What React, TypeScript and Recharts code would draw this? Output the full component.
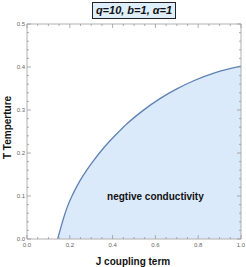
import React from 'react';
import { ComposedChart, Area, XAxis, YAxis, ReferenceDot } from 'recharts';

const couplingJ = [0.143, 0.155, 0.17, 0.187, 0.215, 0.249, 0.28, 0.312, 0.35, 0.389, 0.43, 0.467, 0.54, 0.623, 0.7, 0.779, 0.88, 1.0];
const temperatureT = [0, 0.021, 0.047, 0.073, 0.105, 0.137, 0.161, 0.183, 0.207, 0.229, 0.25, 0.268, 0.298, 0.327, 0.349, 0.368, 0.387, 0.402];

const xTicks = [0, 0.05, 0.1, 0.15, 0.2, 0.25, 0.3, 0.35, 0.4, 0.45, 0.5, 0.55, 0.6, 0.65, 0.7, 0.75, 0.8, 0.85, 0.9, 0.95, 1.0];
const xMajor = [0, 0.2, 0.4, 0.6, 0.8, 1.0];
const yTicks = [0, 0.02, 0.04, 0.06, 0.08, 0.1, 0.12, 0.14, 0.16, 0.18, 0.2, 0.22, 0.24, 0.26, 0.28, 0.3, 0.32, 0.34, 0.36, 0.38, 0.4, 0.42, 0.44, 0.46, 0.48, 0.5];
const yMajor = [0, 0.1, 0.2, 0.3, 0.4, 0.5];

const titleText = 'q=10, b=1, \u03b1=1';
const xTitle = 'J coupling term';
const yTitle = 'T Temperture';
const regionLabel = 'negtive conductivity';
const regionAt = { J: 0.6, T: 0.098 };

const data = couplingJ.map((j, i) => ({ J: j, T: temperatureT[i] }));

const TICK = '#999999';
const LABEL = '#666666';
const FONT = '"Liberation Sans", Arial, sans-serif';

const isMajor = (arr: number[], v: number) => arr.some((m) => Math.abs(m - v) < 1e-9);

const BottomTick = (p: any) => {
  const { x, y, payload } = p;
  const major = isMajor(xMajor, payload.value);
  return (
    <g>
      <line x1={x} x2={x} y1={y} y2={y - (major ? 4 : 2)} stroke={TICK} strokeWidth={0.8} />
      {major && (
        <text x={x} y={y + 8} textAnchor="middle" fontSize={6} fill={LABEL} fontFamily={FONT}>
          {payload.value.toFixed(1)}
        </text>
      )}
    </g>
  );
};

const TopTick = (p: any) => {
  const { x, y, payload } = p;
  const major = isMajor(xMajor, payload.value);
  return <line x1={x} x2={x} y1={y} y2={y + (major ? 4 : 2)} stroke={TICK} strokeWidth={0.8} />;
};

const LeftTick = (p: any) => {
  const { x, y, payload } = p;
  const major = isMajor(yMajor, payload.value);
  return (
    <g>
      <line x1={x} x2={x + (major ? 4 : 2)} y1={y} y2={y} stroke={TICK} strokeWidth={0.8} />
      {major && (
        <text x={x - 2} y={y + 2} textAnchor="end" fontSize={6} fill={LABEL} fontFamily={FONT}>
          {payload.value.toFixed(1)}
        </text>
      )}
    </g>
  );
};

const RightTick = (p: any) => {
  const { x, y, payload } = p;
  const major = isMajor(yMajor, payload.value);
  return <line x1={x} x2={x - (major ? 4 : 2)} y1={y} y2={y} stroke={TICK} strokeWidth={0.8} />;
};

export default function App() {
  return (
    <div style={{ position: 'absolute', left: 0, top: 0, width: 246, height: 267, background: '#fff' }}>
      <ComposedChart
        width={246}
        height={267}
        data={data}
        margin={{ top: 0, left: 0, right: 0, bottom: 0 }}
      >
        <XAxis
          xAxisId="b"
          dataKey="J"
          type="number"
          domain={[0, 1]}
          ticks={xTicks}
          interval={0}
          height={28}
          tickSize={0}
          tickMargin={0}
          tickLine={false}
          tick={<BottomTick />}
          stroke="#b0b0b0"
          allowDataOverflow
          label={{
            content: (lp: any) => {
              const vb = lp.viewBox;
              return (
                <text x={vb.x + vb.width / 2 - 1} y={vb.y + 26} textAnchor="middle" fontSize={10} fontWeight="bold" fontFamily={FONT} fill="#111">
                  {xTitle}
                </text>
              );
            },
          }}
        />
        <XAxis
          xAxisId="t"
          orientation="top"
          dataKey="J"
          type="number"
          domain={[0, 1]}
          ticks={xTicks}
          interval={0}
          height={24}
          tickSize={0}
          tickMargin={0}
          tickLine={false}
          tick={<TopTick />}
          stroke="#b0b0b0"
          allowDataOverflow
        />
        <YAxis
          yAxisId="l"
          type="number"
          domain={[0, 0.5]}
          ticks={yTicks}
          interval={0}
          width={27}
          tickSize={0}
          tickMargin={0}
          tickLine={false}
          tick={<LeftTick />}
          stroke="#b0b0b0"
          allowDataOverflow
          label={{
            content: (lp: any) => {
              const vb = lp.viewBox;
              const cx = 11;
              const cy = vb.y + vb.height / 2 - 4;
              return (
                <text x={cx} y={cy} transform={`rotate(-90 ${cx} ${cy})`} textAnchor="middle" fontSize={10} fontWeight="bold" fontFamily={FONT} fill="#111">
                  {yTitle}
                </text>
              );
            },
          }}
        />
        <YAxis
          yAxisId="r"
          orientation="right"
          type="number"
          domain={[0, 0.5]}
          ticks={yTicks}
          interval={0}
          width={5}
          tickSize={0}
          tickMargin={0}
          tickLine={false}
          tick={<RightTick />}
          stroke="#b0b0b0"
          allowDataOverflow
        />
        <Area
          xAxisId="b"
          yAxisId="l"
          dataKey="T"
          type="monotone"
          stroke="#5e81b5"
          strokeWidth={1.3}
          fill="#dbeafb"
          fillOpacity={1}
          baseValue={0}
          isAnimationActive={false}
          dot={false}
          activeDot={false}
        />
        <ReferenceDot
          xAxisId="b"
          yAxisId="l"
          x={regionAt.J}
          y={regionAt.T}
          r={0}
          fill="none"
          stroke="none"
          label={{
            content: (lp: any) => {
              const vb = lp.viewBox;
              return (
                <text x={vb.x + (vb.width || 0) / 2} y={vb.y + (vb.height || 0) / 2 + 3.5} textAnchor="middle" fontSize={10} fontWeight="bold" fontFamily={FONT} fill="#111">
                  {regionLabel}
                </text>
              );
            },
          }}
        />
      </ComposedChart>
      <div
        style={{
          position: 'absolute',
          left: 92,
          top: 2,
          width: 82,
          height: 15,
          border: '1px solid #222',
          background: '#dfeefb',
          fontFamily: FONT,
          fontWeight: 'bold',
          fontStyle: 'italic',
          fontSize: 11,
          lineHeight: '15px',
          textAlign: 'center',
          color: '#111',
          whiteSpace: 'nowrap',
        }}
      >
        {titleText}
      </div>
    </div>
  );
}
